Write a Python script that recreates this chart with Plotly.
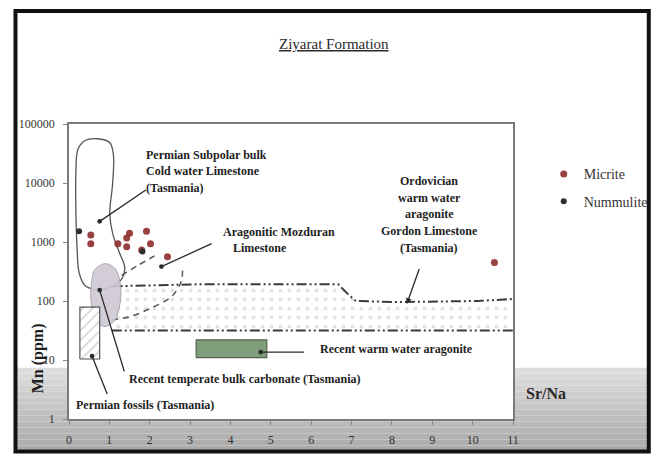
import math
import plotly.graph_objects as go

# ---------------- data ----------------
micrite_x = [0.54, 0.54, 1.21, 1.43, 1.50, 1.43, 1.92, 2.02, 1.80, 2.44, 10.54]
micrite_y = [1310, 930, 930, 1170, 1410, 830, 1520, 930, 730, 560, 450]
nummulite_x = [0.25, 1.82]
nummulite_y = [1520, 690]

# Permian subpolar bulk cold-water limestone field (outline)
subpolar_x = [0.22, 0.39, 0.69, 1.01, 1.10, 1.08, 1.01, 1.08, 1.25, 1.38, 1.30, 1.01, 0.64, 0.39, 0.25, 0.20, 0.17, 0.17, 0.22]
subpolar_y = [36900, 52100, 56200, 48200, 30400, 9620, 3040, 1410, 656, 369, 233, 171, 158, 185, 304, 794, 3690, 14100, 36900]

# Recent temperate bulk carbonate field
temperate_x = [0.64, 0.91, 1.16, 1.28, 1.25, 1.11, 0.86, 0.64, 0.54, 0.57, 0.64]
temperate_y = [341, 430, 341, 171, 79.4, 44.7, 36.9, 50.1, 117, 233, 341]

# Permian fossils box
fossil_x = [0.27, 0.76, 0.76, 0.27, 0.27]
fossil_y = [10.4, 10.4, 79, 79, 10.4]

# Recent warm water aragonite box
warm_x = [3.15, 4.90, 4.90, 3.15, 3.15]
warm_y = [11, 11, 22, 22, 11]

# Ordovician warm water aragonite band (upper / lower limits)
band_upper_x = [1.08, 3.22, 6.67, 6.91, 7.11, 8.14, 10.11, 11.0]
band_upper_y = [178, 192, 192, 131, 100, 96, 100, 108]
band_lower_x = [1.06, 11.0]
band_lower_y = [31.6, 31.6]

# Aragonitic Mozduran limestone (dashed envelope)
moz_upper_x = [1.30, 1.70, 2.12]
moz_upper_y = [271, 398, 584]
moz_lower_x = [1.06, 1.50, 1.99, 2.53, 2.78, 2.81]
moz_lower_y = [48.3, 54.1, 73.6, 117, 215, 398]

x_ticks = list(range(0, 12))
y_ticks = [1, 10, 100, 1000, 10000, 100000]
y_ticktext = ["1", "10", "100", "1000", "10000", "100000"]

SERIF = "Liberation Serif, Times New Roman, DejaVu Serif, serif"
fig = go.Figure()

DASH = "10px,3px,2px,3px,2px,3px"
# band
fig.add_trace(go.Scatter(x=band_lower_x, y=band_lower_y, mode="lines",
                         line=dict(color="#3a3a3a", width=2, dash=DASH),
                         showlegend=False, hoverinfo="skip"))
fig.add_trace(go.Scatter(x=band_upper_x, y=band_upper_y, mode="lines", fill="tonexty",
                         fillpattern=dict(shape=".", fgcolor="#c8c8c8", bgcolor="rgba(255,255,255,0)",
                                          size=9, solidity=0.15),
                         line=dict(color="#3a3a3a", width=2, dash=DASH),
                         showlegend=False, hoverinfo="skip"))
# Mozduran dashed
for xs, ys in [(moz_upper_x, moz_upper_y), (moz_lower_x, moz_lower_y)]:
    fig.add_trace(go.Scatter(x=xs, y=ys, mode="lines", line=dict(color="#555", width=1.5, dash="6px,5px"),
                             line_shape="spline", showlegend=False, hoverinfo="skip"))
# fields
fig.add_trace(go.Scatter(x=subpolar_x, y=subpolar_y, mode="lines", line=dict(color="#555", width=1.3),
                         line_shape="spline", showlegend=False, hoverinfo="skip"))
fig.add_trace(go.Scatter(x=temperate_x, y=temperate_y, mode="lines", fill="toself",
                         fillcolor="rgba(205,200,210,0.9)", line=dict(color="#aaa5b0", width=1),
                         line_shape="spline", showlegend=False, hoverinfo="skip"))
fig.add_trace(go.Scatter(x=fossil_x, y=fossil_y, mode="lines", fill="toself",
                         fillpattern=dict(shape="/", fgcolor="#808080", bgcolor="white", size=7, solidity=0.15),
                         line=dict(color="#555", width=1.2), showlegend=False, hoverinfo="skip"))
fig.add_trace(go.Scatter(x=warm_x, y=warm_y, mode="lines", fill="toself", fillcolor="#7f9c7b",
                         line=dict(color="#56644f", width=1.2), showlegend=False, hoverinfo="skip"))

# data
fig.add_trace(go.Scatter(x=micrite_x, y=micrite_y, mode="markers", name="Micrite", legendgroup="a",
                         marker=dict(color="#8e2b2b", size=7, opacity=0.9)))
fig.add_trace(go.Scatter(x=nummulite_x, y=nummulite_y, mode="markers", name="Nummulite", legendgroup="b",
                         marker=dict(color="#2e2e2e", size=6)))

L = math.log10
ann = []
def label(x, y, t, anchor="left"):
    ann.append(dict(x=x, y=L(y), xref="x", yref="y", text="<b>" + t + "</b>", showarrow=False,
                    xanchor=anchor, yanchor="middle", font=dict(family=SERIF, size=12, color="#1e1e1e")))

def arrow(hx, hy, tx, ty, head=6):
    ann.append(dict(x=hx, y=L(hy), ax=tx, ay=L(ty), xref="x", yref="y", axref="x", ayref="y",
                    text="", showarrow=True, arrowhead=head, arrowsize=0.9, arrowwidth=1.3,
                    arrowcolor="#2a2a2a", standoff=0))

label(1.87, 30400, "Permian Subpolar bulk")
label(1.87, 15800, "Cold water Limestone")
label(1.87, 8250, "(Tasmania)")
label(3.76, 1468, "Aragonitic Mozduran")
label(4.01, 794, "Limestone")
for yy, t in zip([10800, 5620, 2930, 1525, 794],
                 ["Ordovician", "warm water", "aragonite", "Gordon Limestone", "(Tasmania)"]):
    label(8.93, yy, t, "center")
label(6.18, 15.2, "Recent warm water aragonite")
label(1.43, 4.82, "Recent temperate bulk carbonate (Tasmania)")
label(0.12, 1.71, "Permian fossils (Tasmania)")

arrow(0.76, 2240, 1.94, 7940)
arrow(2.29, 383, 3.57, 962)
arrow(8.37, 89, 8.69, 369, head=2)
arrow(4.75, 13.6, 5.86, 13.6)
arrow(0.76, 153, 1.38, 6.07)
arrow(0.57, 11.7, 0.96, 2.51)

# title and axis titles
ann.append(dict(x=(336 - 69) / 448, y=(424 - 43) / 300, xref="paper", yref="paper",
                xanchor="center", yanchor="middle",
                text="<u>Ziyarat Formation</u>", showarrow=False,
                font=dict(family=SERIF, size=15, color="#2a2a2a")))
ann.append(dict(x=(38 - 69) / 448, y=(424 - 362) / 300, xref="paper", yref="paper",
                xanchor="center", yanchor="middle",
                text="<b>Mn (ppm)</b>", textangle=-90, showarrow=False,
                font=dict(family=SERIF, size=16, color="#1e1e1e")))
ann.append(dict(x=(550 - 69) / 448, y=(424 - 398) / 300, xref="paper", yref="paper",
                xanchor="center", yanchor="middle",
                text="<b>Sr/Na</b>", showarrow=False,
                font=dict(family=SERIF, size=16, color="#2a2a2a")))

# background: grey gradient at bottom, white plot area, black frame
shapes = []
top_g, bot_g = 372, 457
n = 14
for i in range(n):
    y0p = top_g + (bot_g - top_g) * i / n
    y1p = top_g + (bot_g - top_g) * (i + 1) / n
    c = int(224 - (224 - 168) * (i + 0.5) / n)
    shapes.append(dict(type="rect", xref="paper", yref="paper", layer="below",
                       x0=(16 - 69) / 448, x1=(653 - 69) / 448, y0=(424 - y1p) / 300, y1=(424 - y0p) / 300,
                       fillcolor=f"rgb({c},{c},{c})", line=dict(width=0)))
shapes.append(dict(type="rect", xref="paper", yref="paper", layer="below",
                   x0=0, x1=1, y0=0, y1=1, fillcolor="white", line=dict(width=0)))
shapes.append(dict(type="rect", xref="paper", yref="paper", layer="above",
                   x0=(15 - 69) / 448, x1=(654 - 69) / 448, y0=(424 - 457) / 300, y1=(424 - 9) / 300,
                   fillcolor="rgba(0,0,0,0)", line=dict(color="#111", width=4)))

fig.update_layout(
    width=665, height=459,
    margin=dict(l=69, r=148, t=124, b=35),
    paper_bgcolor="white", plot_bgcolor="white",
    font=dict(family=SERIF, color="#333"),
    shapes=shapes, annotations=ann,
    showlegend=True,
    legend=dict(x=(548 - 69) / 448, y=(424 - 159) / 300, xanchor="left", yanchor="top",
                bgcolor="rgba(0,0,0,0)", font=dict(family=SERIF, size=14, color="#333"),
                traceorder="grouped", tracegroupgap=6, itemwidth=30),
    xaxis=dict(range=[0, 11], tickvals=x_ticks, ticks="outside", ticklen=4, tickcolor="#888",
               ticklabelstandoff=5,
               showline=True, linecolor="#7a7a7a", linewidth=1.5, mirror=True,
               showgrid=False, zeroline=False, tickfont=dict(family=SERIF, size=12, color="#333")),
    yaxis=dict(type="log", range=[0, 5], tickvals=y_ticks, ticktext=y_ticktext, ticks="outside",
               ticklen=4, tickcolor="#888", ticklabelstandoff=6,
               showline=True, linecolor="#7a7a7a", linewidth=1.5, mirror=True,
               showgrid=False, zeroline=False, tickfont=dict(family=SERIF, size=12, color="#333")),
)

fig.write_html("out.html", config={"displayModeBar": False},
               post_script="document.body.style.margin='0px';document.body.style.overflow='hidden';")
